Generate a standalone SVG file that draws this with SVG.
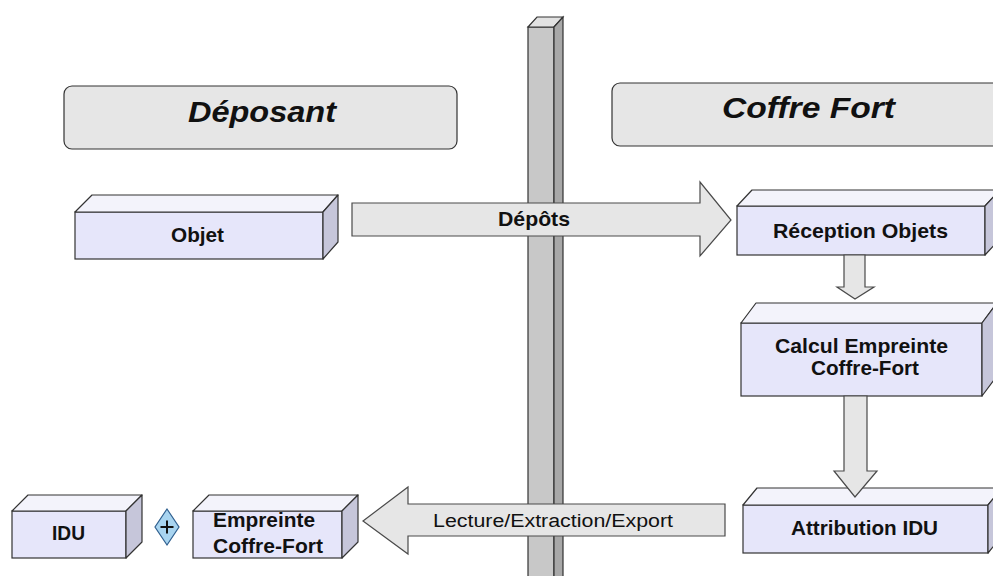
<svg xmlns="http://www.w3.org/2000/svg" width="993" height="576" viewBox="0 0 993 576">
<style>
.front{fill:#e6e6fa;stroke:#333;stroke-width:1.2}
.top{fill:#f3f3fb;stroke:#333;stroke-width:1.2;stroke-linejoin:round}
.side{fill:#c6c6da;stroke:#333;stroke-width:1.2;stroke-linejoin:round}
.hdr{fill:#e6e6e6;stroke:#333;stroke-width:1.2}
.arrow{fill:#e6e6e6;stroke:#4a4a4a;stroke-width:1.2;stroke-linejoin:miter}
.t{font-family:"Liberation Sans",Arial,sans-serif;font-weight:bold;font-size:21px;fill:#111}
.h{font-family:"Liberation Sans",Arial,sans-serif;font-weight:bold;font-style:italic;font-size:29px;fill:#111}
.l{font-family:"Liberation Sans",Arial,sans-serif;font-size:18px;fill:#111}
</style>
<rect width="993" height="576" fill="#fff"/>

<g id="pillar">
  <rect x="528" y="27" width="26" height="560" fill="#c8c8c8" stroke="#333" stroke-width="1.2"/>
  <polygon points="528,27 537,17 563,17 554,27" fill="#e2e2e2" stroke="#333" stroke-width="1.2"/>
  <polygon points="554,27 563,17 563,590 554,590" fill="#a8a8a8" stroke="#333" stroke-width="1.2"/>
</g>

<g id="hdr-deposant">
  <rect class="hdr" x="64" y="86" width="393" height="63" rx="8"/>
  <text class="h" x="188" y="122" textLength="148" lengthAdjust="spacingAndGlyphs">Déposant</text>
</g>
<g id="hdr-coffre">
  <rect class="hdr" x="612" y="83" width="400" height="63" rx="8"/>
  <text class="h" x="722" y="118" textLength="173" lengthAdjust="spacingAndGlyphs">Coffre Fort</text>
</g>

<g id="objet">
  <rect class="front" x="75" y="212" width="248" height="47"/>
  <polygon class="top" points="75,212 92,195 338,195 323,212"/>
  <polygon class="side" points="323,212 338,195 338,242 323,259"/>
  <text class="t" x="171" y="242" textLength="53" lengthAdjust="spacingAndGlyphs">Objet</text>
</g>

<g id="reception">
  <rect class="front" x="737" y="206" width="248" height="49"/>
  <polygon class="top" points="737,206 752,190 1000,190 985,206"/>
  <polygon class="side" points="985,206 1000,190 1000,239 985,255"/>
  <text class="t" x="773" y="238" textLength="175" lengthAdjust="spacingAndGlyphs">Réception Objets</text>
</g>

<g id="calcul">
  <rect class="front" x="741" y="323" width="241" height="73"/>
  <polygon class="top" points="741,323 756,303 997,303 982,323"/>
  <polygon class="side" points="982,323 997,303 997,376 982,396"/>
  <text class="t" x="775" y="353" textLength="173" lengthAdjust="spacingAndGlyphs">Calcul Empreinte</text>
  <text class="t" x="811" y="375" textLength="108" lengthAdjust="spacingAndGlyphs">Coffre-Fort</text>
</g>

<g id="attribution">
  <rect class="front" x="743" y="505" width="245" height="48"/>
  <polygon class="top" points="743,505 757,488 1002,488 988,505"/>
  <polygon class="side" points="988,505 1002,488 1002,536 988,553"/>
  <text class="t" x="791" y="535" textLength="147" lengthAdjust="spacingAndGlyphs">Attribution IDU</text>
</g>

<g id="idu">
  <rect class="front" x="12" y="511" width="114" height="47"/>
  <polygon class="top" points="12,511 28,495 142,495 126,511"/>
  <polygon class="side" points="126,511 142,495 142,542 126,558"/>
  <text class="t" x="52" y="540" textLength="33" lengthAdjust="spacingAndGlyphs">IDU</text>
</g>

<g id="plus">
  <path d="M167,509 L179,527 L167,545 L155,527 Z" fill="#a8d4f0" stroke="#2f5f8f" stroke-width="1.2"/>
  <path d="M160.5,527 H173.5 M167,520.5 V533.5" stroke="#111" stroke-width="2" fill="none"/>
</g>

<g id="empreinte">
  <rect class="front" x="193" y="511" width="149" height="47"/>
  <polygon class="top" points="193,511 209,495 358,495 342,511"/>
  <polygon class="side" points="342,511 358,495 358,542 342,558"/>
  <text class="t" x="213" y="527" textLength="102" lengthAdjust="spacingAndGlyphs">Empreinte</text>
  <text class="t" x="213" y="553" textLength="110" lengthAdjust="spacingAndGlyphs">Coffre-Fort</text>
</g>

<g id="connectors">
  <path class="arrow" d="M352,203 H700 V182 L731,220 L700,256 V236 H352 Z"/>
  <text class="t" x="498" y="226" font-size="20" textLength="72" lengthAdjust="spacingAndGlyphs">Dépôts</text>
  <path class="arrow" d="M725,504 H408 V487 L363,521 L408,554 V536 H725 Z"/>
  <text class="l" x="433" y="527" textLength="240" lengthAdjust="spacingAndGlyphs">Lecture/Extraction/Export</text>
  <path class="arrow" d="M844,255 V287 H837 L855,299 L874,287 H865 V255 Z"/>
  <path class="arrow" d="M844,396 V471 H834 L855,497 L877,471 H867 V396 Z"/>
</g>
</svg>
